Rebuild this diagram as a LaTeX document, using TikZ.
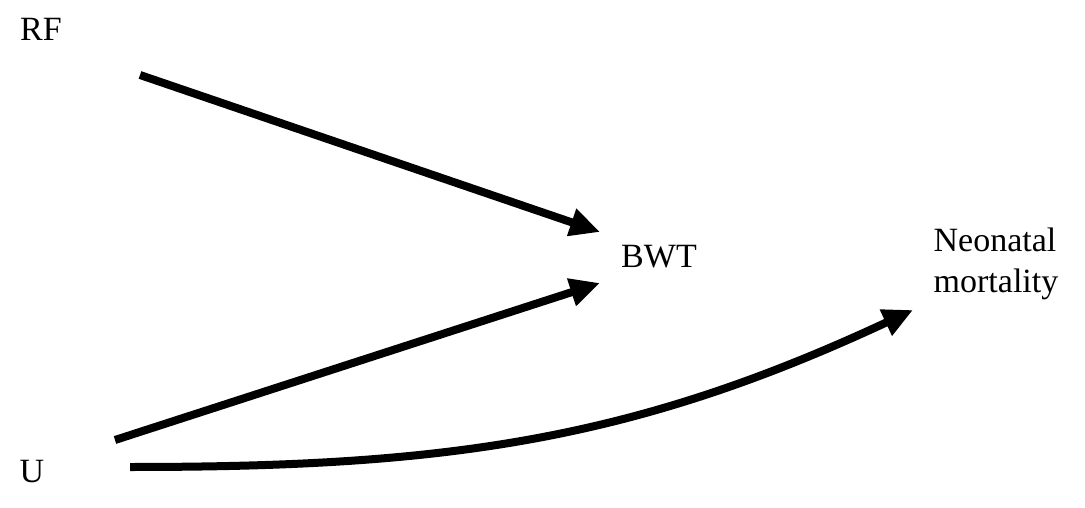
\documentclass[tikz,border=0pt]{standalone}
\usepackage{fontspec}
\setmainfont{Liberation Serif}
\usetikzlibrary{arrows.meta}

\tikzset{
  label/.style={font=\fontsize{34}{41}\selectfont, inner sep=0pt},
  causal/.style={line width=8pt, -{Triangle[length=30pt,width=27pt]}}
}

\begin{document}
\begin{tikzpicture}[x=1pt,y=-1pt]
	\useasboundingbox (0,0) rectangle (1085,508);

	\node[label] (rf) at (41, 29) {RF};
	\node[label] (bwt) at (659, 257) {BWT};
	\node[label, align=left] (nm) at (996, 264) {Neonatal\\mortality};
	\node[label] (u) at (32, 472) {U};

	% free ends of the arrows
	\coordinate (rfout) at (140, 75);
	\coordinate (uout1) at (115, 440);
	\coordinate (uout2) at (130, 467);
	\coordinate (bwtin1) at (600, 232);
	\coordinate (bwtin2) at (600, 283);
	\coordinate (nmin) at (913, 310);

	\draw[causal] (rfout) -- (bwtin1);
	\draw[causal] (uout1) -- (bwtin2);
	\draw[causal] (uout2) to[out=0, in=205] (nmin);
\end{tikzpicture}
\end{document}
